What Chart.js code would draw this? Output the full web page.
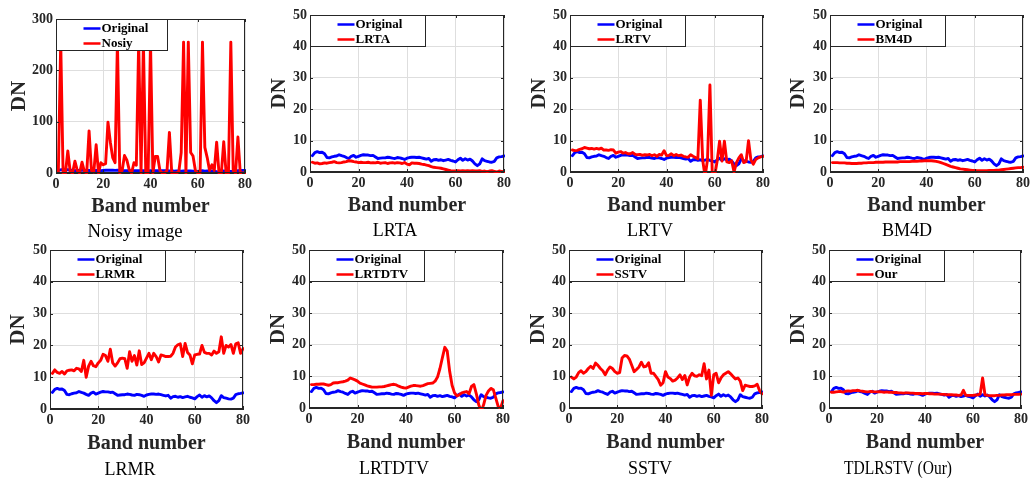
<!DOCTYPE html>
<html><head><meta charset="utf-8">
<script src="https://cdn.jsdelivr.net/npm/chart.js@4.4.1/dist/chart.umd.min.js"></script>
<style>
html,body{margin:0;padding:0;background:#fff;}
#wrap{position:relative;width:1032px;height:478px;overflow:hidden;background:#fff;}
#wrap canvas{position:absolute;}
</style></head><body><div id="wrap"></div>
<script>
// ---------------- data ----------------
const bands = [
 1,2,3,4,5,6,7,8,9,10, 11,12,13,14,15,16,17,18,19,20,
 21,22,23,24,25,26,27,28,29,30, 31,32,33,34,35,36,37,38,39,40,
 41,42,43,44,45,46,47,48,49,50, 51,52,53,54,55,56,57,58,59,60,
 61,62,63,64,65,66,67,68,69,70, 71,72,73,74,75,76,77,78,79,80];

const original = [
 5.2,6.2,6.5,6.2,6.3,5.8,4.6,4.5,4.8,5.0,
 5.1,5.5,5.2,5.0,4.6,4.3,5.0,5.3,4.7,5.0,
 5.3,5.5,5.4,5.4,5.2,5.3,4.8,4.3,4.4,4.5,
 4.5,4.7,4.6,4.4,4.3,4.6,4.5,4.3,4.0,4.4,
 4.6,4.7,4.7,4.6,4.7,4.5,4.3,4.1,4.3,3.4,
 3.9,4.0,3.7,3.9,3.6,3.8,4.0,3.7,3.5,3.2,
 3.9,4.4,3.7,4.2,3.8,4.1,3.5,2.6,2.0,2.6,
 4.2,3.6,3.4,3.2,3.1,3.4,4.5,4.8,4.9,5.1];

const noisy = [
 3,255,0,0,43,3,0,23,5,0,
 21,3,0,82,5,2,55,0,20,16,
 18,99,60,30,20,255,0,5,34,25,
 6,0,20,15,255,0,255,0,0,255,
 0,32,32,5,0,0,5,79,0,0,
 0,3,40,255,0,255,40,33,5,0,
 0,255,50,30,5,16,5,60,0,0,
 61,0,0,255,5,0,70,0,0,0];

const lrta = [
 3.1,2.8,2.9,2.6,2.7,2.9,2.8,3.0,3.1,3.3,
 3.0,2.9,3.0,3.2,3.3,3.6,3.5,3.3,3.2,3.0,
 3.1,3.0,3.0,3.1,2.9,3.0,2.9,3.1,2.8,2.9,
 3.0,2.7,2.9,3.0,2.8,3.0,2.9,2.7,3.0,2.5,
 2.3,2.9,2.8,2.8,2.7,2.5,2.4,2.2,2.0,1.7,
 1.5,1.4,1.3,1.2,1.0,0.8,0.6,0.4,0.3,0.3,
 0.4,0.3,0.4,0.3,0.4,0.3,0.4,0.3,0.3,0.4,
 0.2,0.3,0.1,0.3,0.4,0.2,0.0,0.3,0.2,0.1];

const lrtv = [
 7.0,6.8,6.9,7.2,7.4,7.8,7.6,7.4,7.5,7.3,
 7.5,7.3,7.6,7.0,7.0,6.9,7.1,7.0,6.0,6.3,
 6.5,6.0,6.2,5.8,5.8,6.2,5.6,5.5,5.6,5.3,
 5.5,5.4,5.6,5.2,5.5,5.0,5.6,5.4,6.8,5.2,
 5.3,5.8,5.2,5.6,5.2,5.4,5.0,4.8,4.7,5.5,
 5.0,4.6,4.2,22.9,3.8,-1.5,4.0,27.7,-1.5,-1.0,
 3.5,9.8,3.5,9.8,3.2,3.0,3.6,0.0,3.0,4.5,
 5.5,3.0,3.3,10.0,3.8,2.5,4.0,4.5,4.8,5.0];

const bm4d = [
 3.0,3.0,3.0,2.9,2.9,2.9,2.8,2.8,2.7,2.7,
 2.7,2.8,2.8,2.9,2.9,3.0,3.0,3.0,3.1,3.1,
 3.1,3.1,3.2,3.2,3.2,3.2,3.2,3.2,3.3,3.3,
 3.3,3.3,3.3,3.4,3.4,3.4,3.5,3.5,3.6,3.6,
 3.6,3.6,3.5,3.4,3.2,3.0,2.7,2.4,2.1,1.8,
 1.6,1.4,1.2,1.0,0.9,0.8,0.7,0.6,0.5,0.5,
 0.4,0.4,0.4,0.4,0.4,0.5,0.5,0.5,0.6,0.6,
 0.7,0.8,0.9,1.0,1.1,1.2,1.3,1.4,1.4,1.5];

const lrmr = [
 11.2,12.3,11.5,11.2,11.8,11.0,12.0,12.2,12.3,12.0,
 12.8,12.6,11.8,15.3,10.0,13.5,15.0,13.6,13.3,14.5,
 15.3,17.2,16.8,15.0,18.8,14.5,13.5,14.5,15.8,16.0,
 15.8,12.8,18.0,15.0,16.8,13.8,18.3,14.0,14.5,16.0,
 17.5,15.5,17.5,16.5,14.8,17.0,16.8,16.5,16.5,16.6,
 17.5,19.5,20.2,20.5,16.5,20.6,17.8,17.0,14.2,17.0,
 17.2,17.3,20.0,17.8,17.5,17.5,17.0,18.2,17.5,18.0,
 22.7,17.5,20.0,19.5,20.3,17.5,20.5,20.8,17.5,19.0];

const lrtdtv = [
 7.4,7.4,7.5,7.5,7.6,7.6,7.4,7.2,7.4,7.9,
 8.0,8.0,8.2,8.3,8.5,8.8,9.5,9.2,8.9,8.5,
 7.9,7.6,7.3,7.0,6.8,6.6,6.6,6.6,6.7,6.7,
 6.8,7.0,7.2,7.4,7.5,7.3,6.9,6.6,6.4,6.3,
 6.6,6.9,7.1,7.1,7.0,6.9,7.1,7.4,7.7,7.8,
 7.9,8.5,9.8,12.5,15.9,19.2,18.0,11.6,7.2,4.8,
 3.8,4.2,4.8,5.0,5.2,4.5,6.8,7.4,4.5,1.0,
 -1.0,1.0,4.0,5.4,6.2,5.8,3.2,0.5,0.0,2.3];

const sstv = [
 9.8,9.2,9.8,11.2,11.8,11.0,11.5,12.5,13.2,12.5,
 14.2,13.5,12.5,11.8,10.5,12.0,13.0,12.5,11.5,11.0,
 11.2,15.8,16.6,16.5,15.5,13.5,11.5,12.2,13.0,14.5,
 13.0,13.2,14.3,11.0,11.0,10.0,9.0,7.2,8.0,11.5,
 9.8,9.3,8.5,8.8,9.5,10.5,9.0,10.3,7.3,9.8,
 11.0,10.2,10.0,10.5,10.2,14.0,9.2,12.0,4.0,10.5,
 11.0,8.0,9.5,10.5,11.0,11.5,10.8,10.0,9.2,9.5,
 8.5,5.5,7.2,7.0,6.8,6.8,7.0,7.5,5.5,4.5];

const our = [
 5.0,5.0,5.1,5.2,5.2,5.0,5.3,5.4,5.3,5.5,
 5.5,5.6,5.4,5.3,5.2,5.1,5.2,5.2,5.1,5.1,
 5.2,5.1,5.0,5.1,5.0,5.0,4.9,4.9,4.8,4.8,
 4.7,4.8,4.8,4.7,4.7,4.6,4.6,4.6,4.5,4.6,
 4.6,4.5,4.5,4.4,4.4,4.4,4.3,4.3,4.2,4.2,
 4.2,4.1,4.1,4.0,4.1,5.6,4.0,4.0,4.0,4.0,
 4.1,4.2,4.4,9.5,4.2,4.0,3.9,3.9,3.9,4.0,
 4.0,4.1,4.1,4.2,4.2,4.2,4.3,4.3,4.3,4.4];

const xTickValues = [0, 20, 40, 60, 80];
const yTicks50 = [0, 10, 20, 30, 40, 50];
const yTicks300 = [0, 100, 200, 300];

const seriesNames = ['Nosiy', 'LRTA', 'LRTV', 'BM4D', 'LRMR', 'LRTDTV', 'SSTV', 'Our'];
const captions = ['Noisy image', 'LRTA', 'LRTV', 'BM4D', 'LRMR', 'LRTDTV', 'SSTV', 'TDLRSTV (Our)'];
const seriesValues = [noisy, lrta, lrtv, bm4d, lrmr, lrtdtv, sstv, our];
const yTickSets = [yTicks300, yTicks50, yTicks50, yTicks50, yTicks50, yTicks50, yTicks50, yTicks50];

// ---------------- layout (page pixels) ----------------
const plotBoxes = [
  [56, 19, 245, 173], [310, 15, 504, 172], [570, 15, 763, 172], [830, 15, 1023, 172],
  [50, 250, 243, 409], [309, 250, 503, 408], [569, 250, 762, 408], [829, 250, 1021, 408]
];
const leftSpace = [47, 41, 41, 42, 42, 41, 41, 41];
const captionCenterX = [135, 395, 650, 907, 130, 394, 650, 898];
const captionScaleX = [1.04, 1, 1, 1, 1, 1, 1, 0.86];

const SERIF = "'Liberation Serif', 'Times New Roman', serif";
const AXIS_COLOR = '#262626';
const GRID_COLOR = '#dedede';

const framePlugin = {
  id: 'frame',
  afterDraw(chart) {
    const {ctx, chartArea: a, scales} = chart;
    const o = chart.options.plugins.frame;
    ctx.save();
    ctx.strokeStyle = AXIS_COLOR;
    ctx.lineWidth = 1;
    ctx.strokeRect(Math.round(a.left) + 0.5, Math.round(a.top) + 0.5,
                   Math.round(a.right - a.left) - 1, Math.round(a.bottom - a.top) - 1);
    ctx.beginPath();
    scales.x.ticks.forEach(t => {
      const px = Math.round(scales.x.getPixelForValue(t.value)) + 0.5;
      ctx.moveTo(px, a.bottom); ctx.lineTo(px, a.bottom - 3);
      ctx.moveTo(px, a.top); ctx.lineTo(px, a.top + 3);
    });
    scales.y.ticks.forEach(t => {
      const py = Math.round(scales.y.getPixelForValue(t.value)) + 0.5;
      ctx.moveTo(a.left, py); ctx.lineTo(a.left + 3, py);
      ctx.moveTo(a.right, py); ctx.lineTo(a.right - 3, py);
    });
    ctx.stroke();
    // legend box inside the plot, top-left
    const bx = Math.round(a.left) + 0.5, by = Math.round(a.top) + 0.5;
    const bw = o.legendWidth, bh = 31;
    ctx.fillStyle = '#ffffff';
    ctx.fillRect(bx, by, bw, bh);
    ctx.strokeStyle = AXIS_COLOR;
    ctx.lineWidth = 1;
    ctx.strokeRect(bx, by, bw, bh);
    ctx.font = "bold 13px " + SERIF;
    ctx.textBaseline = 'middle';
    ctx.textAlign = 'left';
    chart.data.datasets.forEach((ds, i) => {
      const cy = by + 9 + i * 15;
      ctx.strokeStyle = ds.borderColor;
      ctx.lineWidth = 2.5;
      ctx.beginPath();
      ctx.moveTo(bx + 27, cy); ctx.lineTo(bx + 44, cy);
      ctx.stroke();
      ctx.fillStyle = '#000000';
      ctx.fillText(ds.label, bx + 45, cy + 0.5);
    });
    // sub-figure caption under the x-axis title
    ctx.font = "18px " + SERIF;
    ctx.textAlign = 'center';
    ctx.textBaseline = 'middle';
    ctx.fillStyle = '#000000';
    ctx.translate(o.captionX, a.bottom + o.captionDy);
    ctx.scale(o.captionScale, 1);
    ctx.fillText(o.caption, 0, 0);
    ctx.restore();
  }
};

const wrap = document.getElementById('wrap');

plotBoxes.forEach((pb, i) => {
  const [pl, pt, pr, pbm] = pb;
  const row = i < 4 ? 0 : 1;
  const L = leftSpace[i], T = 12, R = 10;
  const B = row === 0 ? 44 : 45;
  const capTop = row === 0 ? 6 : 7;
  const capH = 18 + capTop + 4;
  const W = L + (pr - pl) + R + 30;
  const H = T + (pbm - pt) + B + capH;
  const cv = document.createElement('canvas');
  cv.width = W; cv.height = H;
  cv.style.left = (pl - L) + 'px';
  cv.style.top = (pt - T) + 'px';
  cv.style.width = W + 'px'; cv.style.height = H + 'px';
  wrap.appendChild(cv);
  const yTicks = yTickSets[i];

  new Chart(cv, {
    type: 'line',
    data: {
      labels: bands,
      datasets: [
        {label: 'Original', data: original, borderColor: '#0000ff', borderWidth: 2.9,
         borderJoinStyle: 'round', borderCapStyle: 'round',
         pointRadius: 0, tension: 0, order: 1, clip: 1},
        {label: seriesNames[i], data: seriesValues[i], borderColor: '#ff0000', borderWidth: 2.9,
         borderJoinStyle: 'round', borderCapStyle: 'round',
         pointRadius: 0, tension: 0, order: 0, clip: 1}
      ]
    },
    options: {
      responsive: false, animation: false, devicePixelRatio: 1,
      events: [],
      layout: {padding: {top: T, right: R + 30, left: 0, bottom: capH}},
      plugins: {
        legend: {display: false},
        tooltip: {enabled: false},
        title: {display: false},
        frame: {
          legendWidth: i === 0 ? 111 : 115,
          caption: captions[i],
          captionX: captionCenterX[i] - (pl - L),
          captionDy: B + capTop + 9,
          captionScale: captionScaleX[i]
        }
      },
      scales: {
        x: {
          type: 'linear', min: 0, max: 80,
          afterFit: s => { s.height = B; },
          afterBuildTicks: s => { s.ticks = xTickValues.map(v => ({value: v})); },
          ticks: {color: AXIS_COLOR, padding: 3, maxRotation: 0,
                  font: {family: SERIF, size: 14, weight: 'bold'}},
          grid: {color: GRID_COLOR, drawTicks: false, lineWidth: 1},
          border: {display: true, color: AXIS_COLOR, width: 1},
          title: {display: true, text: 'Band number', color: AXIS_COLOR, padding: 0,
                  font: {family: SERIF, size: 20, weight: 'bold', lineHeight: 1}}
        },
        y: {
          type: 'linear', min: 0, max: yTicks[yTicks.length - 1],
          afterFit: s => { s.width = L; },
          afterBuildTicks: s => { s.ticks = yTicks.map(v => ({value: v})); },
          ticks: {color: AXIS_COLOR, padding: 3,
                  font: {family: SERIF, size: 14, weight: 'bold'}},
          grid: {color: GRID_COLOR, drawTicks: false, lineWidth: 1},
          border: {display: true, color: AXIS_COLOR, width: 1},
          title: {display: true, text: 'DN', color: AXIS_COLOR, padding: 0,
                  font: {family: SERIF, size: 21, weight: 'bold', lineHeight: 1}}
        }
      }
    },
    plugins: [framePlugin]
  });
});
</script>
</body></html>
